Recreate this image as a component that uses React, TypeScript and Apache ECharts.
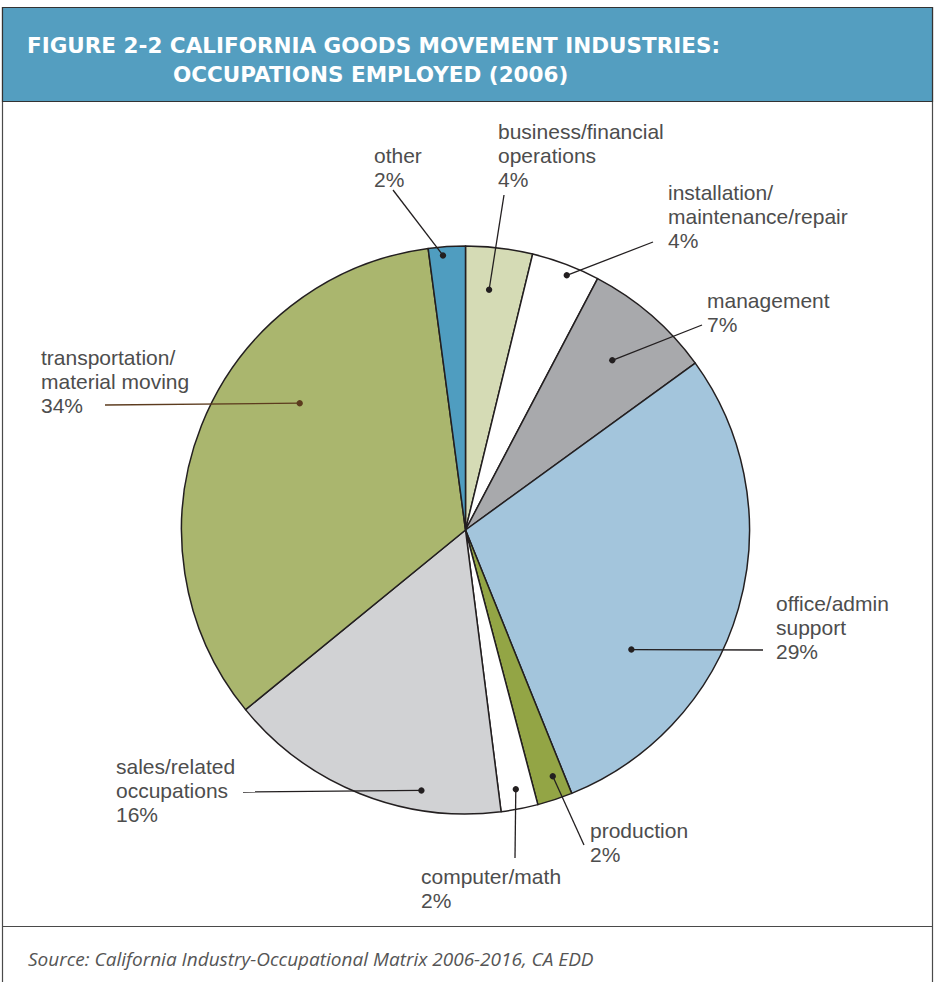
import React, { useEffect, useRef } from "react";
import * as echarts from "echarts";

// ---- data ----
const categories = [
  "business/financial\noperations",
  "installation/\nmaintenance/repair",
  "management",
  "office/admin\nsupport",
  "production",
  "computer/math",
  "sales/related\noccupations",
  "transportation/\nmaterial moving",
  "other",
];
const shares = [3.8, 3.9, 7.3, 28.9, 2.0, 2.1, 16.1, 33.8, 2.1];
const sliceColors = [
  "#d5dbb5",
  "#ffffff",
  "#a8a9ac",
  "#a3c5dc",
  "#93a545",
  "#ffffff",
  "#d1d2d4",
  "#aab66e",
  "#4f9dc0",
];
const titleLine1 = "FIGURE 2-2 CALIFORNIA GOODS MOVEMENT INDUSTRIES:";
const titleLine2 = "OCCUPATIONS EMPLOYED (2006)";
const sourceText = "Source: California Industry-Occupational Matrix 2006-2016, CA EDD";

// ---- layout ----
const CX = 465.5;
const CY = 530;
const R = 284;
// t: position of the dot across the slice (0..1 clockwise), r: fraction of radius
// lx, ly: label top-left; ex, ey: outer end of leader line
const spots = [
  { t: 0.41, r: 0.85, lx: 498, ly: 119, ex: 504, ey: 195 },
  { t: 0.57, r: 0.965, lx: 668, ly: 180, ex: 653, ey: 242 },
  { t: 0.5, r: 0.79, lx: 707, ly: 288, ex: 702, ey: 325 },
  { t: 0.69, r: 0.72, lx: 776, ly: 591, ex: 763, ey: 650 },
  { t: 0.34, r: 0.92, lx: 590, ly: 818, ex: 584, ey: 845 },
  { t: 0.5, r: 0.93, lx: 421, ly: 864, ex: 515, ey: 858 },
  { t: 0.29, r: 0.93, lx: 116, ly: 754, ex: 243, ey: 792 },
  { t: 0.63, r: 0.735, lx: 41, ly: 345, ex: 105, ey: 405 },
  { t: 0.38, r: 0.97, lx: 374, ly: 143, ex: 393, ey: 190 },
];
const lineColors = ["#231f20", "#231f20", "#231f20", "#231f20", "#231f20", "#231f20", "#231f20", "#5c3b1e", "#231f20"];

function dotPoints(): number[][] {
  const total = shares.reduce((a, b) => a + b, 0);
  let acc = 0;
  return shares.map((v, i) => {
    const start = (acc / total) * 360;
    acc += v;
    const end = (acc / total) * 360;
    const ang = ((start + (end - start) * spots[i].t) * Math.PI) / 180;
    const rr = R * spots[i].r;
    return [CX + rr * Math.sin(ang), CY - rr * Math.cos(ang)];
  });
}

export default function App() {
  const ref = useRef<HTMLDivElement>(null);
  useEffect(() => {
    if (!ref.current) return;
    const chart = echarts.init(ref.current, null, { renderer: "svg" });
    const dots = dotPoints();
    const font = "'Open Sans', sans-serif";
    const labelFont = "'Liberation Sans', Arial, sans-serif";
    const titleFont = "'DejaVu Sans', sans-serif";
    chart.setOption({
      animation: false,
      backgroundColor: "#ffffff",
      graphic: [
        {
          type: "rect",
          shape: { x: 2.5, y: 7.5, width: 930, height: 1000 },
          style: { fill: "none", stroke: "#4a4a4a", lineWidth: 1.2 },
          z: 0,
        },
        {
          type: "rect",
          shape: { x: 2.5, y: 7.5, width: 930, height: 94 },
          style: { fill: "#549ec0", stroke: "#333333", lineWidth: 1.2 },
          z: 1,
        },
        {
          type: "line",
          shape: { x1: 2.5, y1: 926.5, x2: 932.5, y2: 926.5 },
          style: { stroke: "#4a4a4a", lineWidth: 1.2 },
        },
        {
          type: "text",
          x: 27,
          y: 45,
          style: {
            text: titleLine1,
            fill: "#ffffff",
            fontSize: 21.5,
            fontWeight: "bold",
            fontFamily: titleFont,
            verticalAlign: "middle",
          },
          z: 2,
        },
        {
          type: "text",
          x: 173,
          y: 74,
          style: {
            text: titleLine2,
            fill: "#ffffff",
            fontSize: 21.5,
            fontWeight: "bold",
            fontFamily: titleFont,
            verticalAlign: "middle",
          },
          z: 2,
        },
        {
          type: "text",
          x: 28,
          y: 959,
          style: {
            text: sourceText,
            fill: "#555555",
            fontSize: 19,
            fontStyle: "italic",
            fontFamily: font,
            verticalAlign: "middle",
          },
        },
        ...dots.map((p, i) => ({
          type: "polyline",
          shape: { points: [p, [spots[i].ex, spots[i].ey]] },
          style: { stroke: lineColors[i], lineWidth: 1.3, fill: "none" },
          z: 10,
        })),
        ...dots.map((p, i) => ({
          type: "circle",
          shape: { cx: p[0], cy: p[1], r: 3.2 },
          style: { fill: lineColors[i] },
          z: 11,
        })),
      ],
      series: [
        {
          type: "pie",
          center: [CX, CY],
          radius: [0, R],
          startAngle: 90,
          clockwise: true,
          avoidLabelOverlap: false,
          silent: true,
          data: categories.map((name, i) => ({
            name,
            value: shares[i],
            itemStyle: { color: sliceColors[i] },
          })),
          itemStyle: { borderColor: "#231f20", borderWidth: 1.5 },
          label: {
            show: true,
            position: "outside",
            formatter: (p: any) => `${p.name}\n${Math.round(p.value)}%`,
            color: "#4d4d4d",
            fontSize: 21,
            lineHeight: 24,
            fontFamily: labelFont,
            align: "left",
          },
          labelLine: { show: false },
          labelLayout: (params: any) => {
            const s = spots[params.dataIndex];
            return { x: s.lx, y: s.ly, align: "left", verticalAlign: "top" };
          },
        },
      ],
    });
    return () => chart.dispose();
  }, []);
  return (
    <div
      ref={ref}
      style={{ position: "absolute", left: 0, top: 0, width: 935, height: 982 }}
    />
  );
}
